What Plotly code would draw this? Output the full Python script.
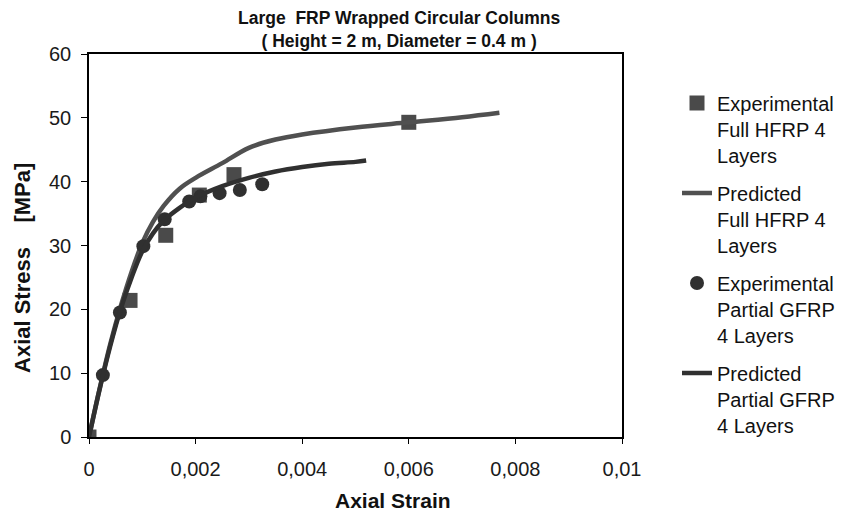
import plotly.graph_objects as go

# Experimental Full HFRP 4 Layers (squares)
exp_full_x = [0.0, 0.00077, 0.00144, 0.00207, 0.00272, 0.00600]
exp_full_y = [0.0, 21.4, 31.6, 37.9, 41.1, 49.3]

# Predicted Full HFRP 4 Layers (lighter line)
pred_full_x = [0.0, 0.0002, 0.0004, 0.0006, 0.0008, 0.0010, 0.0012, 0.0014, 0.0017,
               0.0020, 0.0025, 0.0030, 0.0035, 0.0040, 0.0050, 0.0060, 0.0070, 0.0077]
pred_full_y = [0.0, 7.6, 14.6, 20.6, 25.9, 30.4, 33.7, 36.2, 38.9,
               40.6, 42.9, 45.3, 46.6, 47.4, 48.5, 49.3, 50.1, 50.8]

# Experimental Partial GFRP 4 Layers (circles)
exp_part_x = [0.00026, 0.00058, 0.00102, 0.00142, 0.00188, 0.00209, 0.00245, 0.00283, 0.00325]
exp_part_y = [9.7, 19.5, 29.9, 34.1, 36.9, 37.7, 38.2, 38.7, 39.6]

# Predicted Partial GFRP 4 Layers (darker line)
pred_part_x = [0.0, 0.0002, 0.0004, 0.0006, 0.0008, 0.0010, 0.0012, 0.0014, 0.0017,
               0.0020, 0.0025, 0.0030, 0.0035, 0.0040, 0.0045, 0.0050, 0.0052]
pred_part_y = [0.0, 7.5, 14.3, 20.2, 25.0, 29.1, 31.9, 33.9, 35.9,
               37.5, 39.3, 40.6, 41.6, 42.3, 42.8, 43.1, 43.3]

x_ticks = [0, 0.002, 0.004, 0.006, 0.008, 0.01]
x_tick_labels = ["0", "0,002", "0,004", "0,006", "0,008", "0,01"]
y_ticks = [0, 10, 20, 30, 40, 50, 60]

FONT = "Liberation Sans, Arial, sans-serif"

fig = go.Figure()
fig.add_trace(go.Scatter(
    x=exp_full_x, y=exp_full_y, mode="markers", legendgroup="a",
    name="Experimental<br>Full HFRP 4<br>Layers",
    marker=dict(symbol="square", size=15, color="#4a4a4a")))
fig.add_trace(go.Scatter(
    x=pred_full_x, y=pred_full_y, mode="lines", line_shape="spline", legendgroup="b",
    name="Predicted<br>Full HFRP 4<br>Layers",
    line=dict(color="#505050", width=4.5)))
fig.add_trace(go.Scatter(
    x=exp_part_x, y=exp_part_y, mode="markers", legendgroup="c",
    name="Experimental<br>Partial GFRP<br>4 Layers",
    marker=dict(symbol="circle", size=14, color="#303030")))
fig.add_trace(go.Scatter(
    x=pred_part_x, y=pred_part_y, mode="lines", line_shape="spline", legendgroup="d",
    name="Predicted<br>Partial GFRP<br>4 Layers",
    line=dict(color="#303030", width=4.5)))

fig.update_layout(
    width=851, height=504,
    margin=dict(l=81, r=237, t=46, b=75),
    paper_bgcolor="white", plot_bgcolor="white",
    font=dict(family=FONT, color="#111111"),
    legend=dict(
        x=1.1032, xanchor="left", y=0.923, yanchor="top",
        font=dict(size=20, color="#111111"), valign="top",
        tracegroupgap=9, bgcolor="rgba(0,0,0,0)"),
    xaxis=dict(
        range=[0, 0.01], tickvals=x_ticks, ticktext=x_tick_labels,
        showline=True, linecolor="black", linewidth=1.5, mirror=True,
        ticks="outside", ticklen=5, tickcolor="black",
        showgrid=False, zeroline=False, automargin=False,
        ticklabelstandoff=8,
        tickfont=dict(size=20, color="#1a1a1a")),
    yaxis=dict(
        range=[0, 60], tickvals=y_ticks,
        showline=True, linecolor="black", linewidth=1.5, mirror=True,
        ticks="outside", ticklen=6, tickcolor="black",
        showgrid=False, zeroline=False, automargin=False,
        ticklabelstandoff=6,
        tickfont=dict(size=20, color="#1a1a1a")),
    annotations=[
        dict(text="<b>Large  FRP Wrapped Circular Columns<br>( Height = 2 m, Diameter = 0.4 m )</b>",
             xref="paper", yref="paper", x=0.5815, y=1.063,
             xanchor="center", yanchor="middle", showarrow=False,
             font=dict(size=17.5, color="#111111")),
        dict(text="<b>Axial Strain</b>",
             xref="paper", yref="paper", x=0.5704, y=-0.1645,
             xanchor="center", yanchor="middle", showarrow=False,
             font=dict(size=21, color="#111111")),
        dict(text="<b>Axial Stress    [MPa]</b>", textangle=-90,
             xref="paper", yref="paper", x=-0.1238, y=0.4413,
             xanchor="center", yanchor="middle", showarrow=False,
             font=dict(size=22, color="#111111")),
    ],
)

fig.write_html("out.html")
